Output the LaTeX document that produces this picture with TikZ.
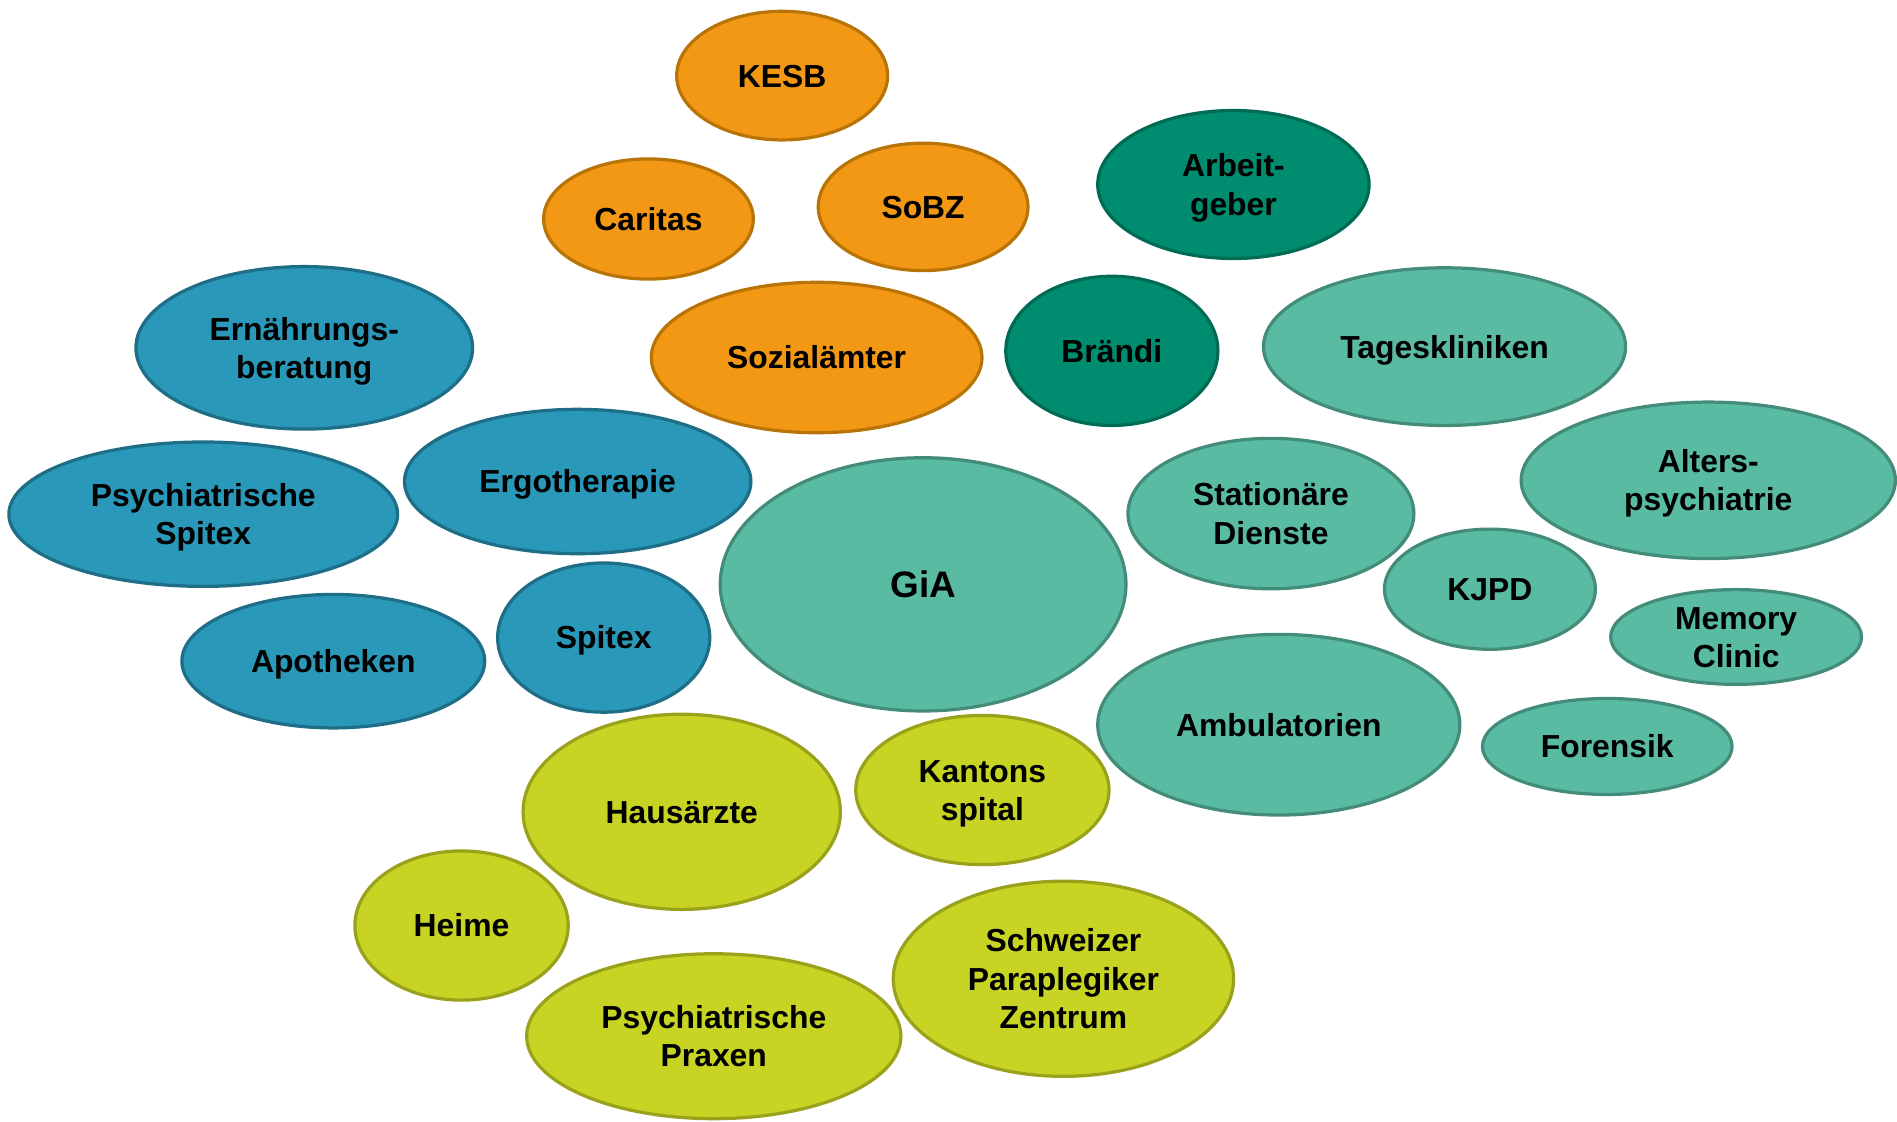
\documentclass[tikz,border=0pt]{standalone}
\usepackage{fontspec}
\setmainfont{Liberation Sans}
\usetikzlibrary{shapes.geometric}

\definecolor{orfill}{HTML}{F39814}
\definecolor{orline}{HTML}{B97407}
\definecolor{dgfill}{HTML}{008C6E}
\definecolor{dgline}{HTML}{006B55}
\definecolor{blfill}{HTML}{2A98B8}
\definecolor{blline}{HTML}{1F6E87}
\definecolor{tefill}{HTML}{5ABBA3}
\definecolor{teline}{HTML}{438C7A}
\definecolor{lifill}{HTML}{C8D424}
\definecolor{liline}{HTML}{9AA21C}

% every text line gets the same height and depth, so descenders do not shift the text
\newcommand\lnst{\rule[-3.85pt]{0pt}{19pt}}

\tikzset{
  bubble/.style={ellipse, draw, line width=1.6pt, inner sep=0pt, align=center,
    font=\bfseries\fontsize{15.8}{19}\selectfont, text=black},
  social/.style={bubble, fill=orfill, draw=orline},
  work/.style={bubble, fill=dgfill, draw=dgline},
  care/.style={bubble, fill=blfill, draw=blline},
  clinic/.style={bubble, fill=tefill, draw=teline},
  doctor/.style={bubble, fill=lifill, draw=liline},
  sz/.style 2 args={minimum width=#1pt, minimum height=#2pt}
}

\begin{document}
\begin{tikzpicture}[x=0.6pt, y=-0.6pt]
\useasboundingbox[fill=white] (0,0) rectangle (1568,927);

% social services
\node[social, sz={104.6}{63.8}] (kesb) at (646.5,62.5) {\lnst KESB};
\node[social, sz={104}{59.6}] (caritas) at (536,181) {\lnst Caritas};
\node[social, sz={104}{63.2}] (sobz) at (763,171) {\lnst SoBZ};
\node[social, sz={164}{74.6}] (sozial) at (675,295.5) {\lnst Sozialämter};

% employment
\node[work, sz={134.6}{73.4}] (arbeit) at (1019.5,152.5) {\lnst Arbeit-\\\lnst geber};
\node[work, sz={105.2}{74}] (braendi) at (919,290) {\lnst Brändi};

% outpatient care
\node[care, sz={167}{80.6}] (ernaehrung) at (251.5,287.5) {\lnst Ernährungs-\\\lnst beratung};
\node[care, sz={192.8}{71.6}] (pspitex) at (168,425) {\lnst Psychiatrische\\\lnst Spitex};
\node[care, sz={171.8}{71.6}] (ergo) at (477.5,398) {\lnst Ergotherapie};
\node[care, sz={150.2}{66.2}] (apo) at (275.5,546.5) {\lnst Apotheken};
\node[care, sz={105.2}{74}] (spitex) at (499,527) {\lnst Spitex};

% psychiatric clinics
\node[clinic, sz={201.2}{125.6}, font=\bfseries\fontsize{18.3}{22}\selectfont] (gia) at (763,483) {GiA};
\node[clinic, sz={179.6}{78.2}] (tages) at (1194,286.5) {\lnst Tageskliniken};
\node[clinic, sz={141.8}{74.6}] (station) at (1050.5,424.5) {\lnst Stationäre\\\lnst Dienste};
\node[clinic, sz={185.6}{77.6}] (alter) at (1412,397) {\lnst Alters-\\\lnst psychiatrie};
\node[clinic, sz={104.6}{59.6}] (kjpd) at (1231.5,487) {\lnst KJPD};
\node[clinic, sz={124.4}{47}, inner ysep=-3pt] (memory) at (1435,526.5) {\lnst Memory\\\lnst Clinic};
\node[clinic, sz={179.6}{89.6}] (ambu) at (1057,599) {\lnst Ambulatorien};
\node[clinic, sz={123.8}{47.6}] (foren) at (1328.5,617) {\lnst Forensik};

% physicians and hospitals
\node[doctor, sz={157.4}{96.8}] (haus) at (563.5,671) {\lnst Hausärzte};
\node[doctor, sz={125.6}{74}] (kanton) at (812,653) {\lnst Kantons\\\lnst spital};
\node[doctor, sz={105.8}{74}] (heime) at (381.5,765) {\lnst Heime};
\node[doctor, sz={185.6}{81.8}] (praxen) at (590,856.5) {\lnst Psychiatrische\\\lnst Praxen};
\node[doctor, sz={168.8}{96.8}] (spz) at (879,809) {\lnst Schweizer\\\lnst Paraplegiker\\\lnst Zentrum};
\end{tikzpicture}
\end{document}
